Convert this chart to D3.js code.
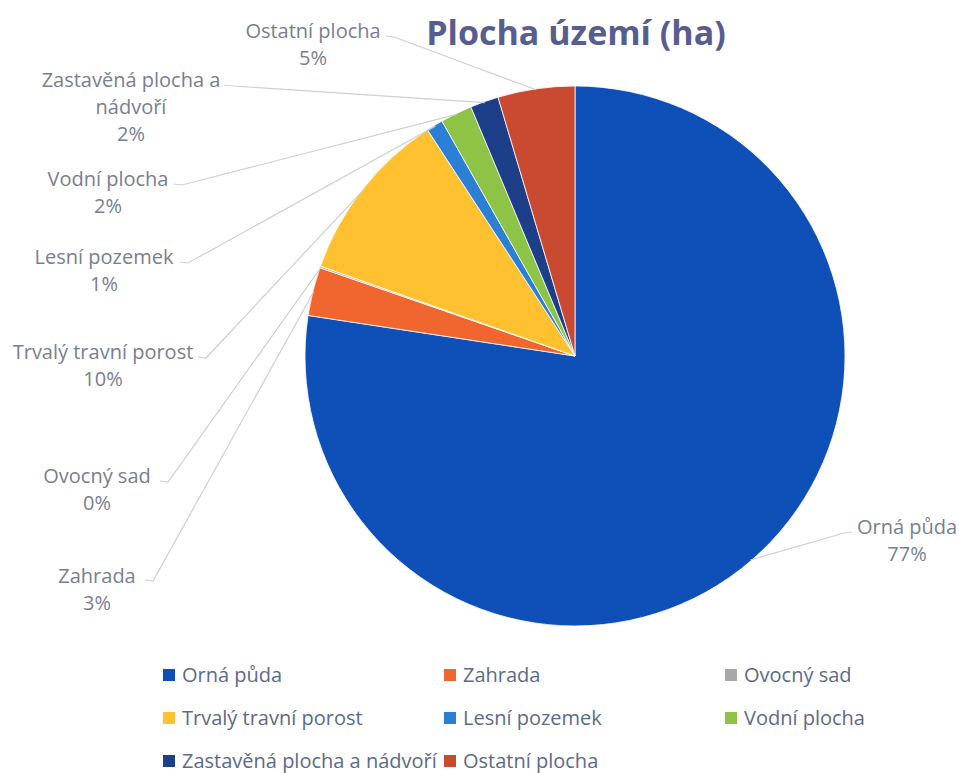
<!DOCTYPE html>
<html>
<head>
<meta charset="utf-8">
<script src="https://cdn.jsdelivr.net/npm/d3@7"></script>
<style>
  body { margin: 0; background: #fff; }
  svg { display: block; font-family: "Open Sans", Lato, sans-serif; }
</style>
</head>
<body>
<div id="chart"></div>
<script>
// share of each land category (percent)
const categories = ["Orná půda", "Zahrada", "Ovocný sad", "Trvalý travní porost",
  "Lesní pozemek", "Vodní plocha", "Zastavěná plocha a nádvoří", "Ostatní plocha"];
const values = [77.4, 2.9, 0.1, 10.4, 1.0, 1.9, 1.7, 4.6];
const colors = ["#0f4fb8", "#f0662e", "#a8a8a8", "#ffc12f", "#2b80d6", "#8ec445", "#1d3f8a", "#c94a30"];

// label layout: lines of text, centre x, first baseline y, anchor of the leader line
const labelLayout = [
  { lines: ["Orná půda"], x: 907, y: 534, lx: 852, ly: 532 },
  { lines: ["Zahrada"], x: 97, y: 583, lx: 145, ly: 580 },
  { lines: ["Ovocný sad"], x: 97, y: 483, lx: 160, ly: 481 },
  { lines: ["Trvalý travní porost"], x: 103, y: 359, lx: 198, ly: 357 },
  { lines: ["Lesní pozemek"], x: 104, y: 264, lx: 180, ly: 262 },
  { lines: ["Vodní plocha"], x: 108, y: 186, lx: 174, ly: 184 },
  { lines: ["Zastavěná plocha a", "nádvoří"], x: 131, y: 87, lx: 225, ly: 85 },
  { lines: ["Ostatní plocha"], x: 313, y: 38, lx: 386, ly: 36 }
];

const width = 959, height = 773;
const cx = 575, cy = 356, radius = 270;

const svg = d3.select("#chart").append("svg")
  .attr("width", width)
  .attr("height", height);

svg.append("text")
  .attr("x", 576)
  .attr("y", 45)
  .attr("text-anchor", "middle")
  .attr("font-size", 34)
  .attr("font-weight", "bold")
  .attr("fill", "#575d8f")
  .text("Plocha území (ha)");

const data = categories.map((c, i) => ({ name: c, value: values[i], color: colors[i], lab: labelLayout[i] }));

const pie = d3.pie().sort(null).value(d => d.value);
const arc = d3.arc().innerRadius(0).outerRadius(radius);
const arcs = pie(data);

const g = svg.append("g").attr("transform", "translate(" + cx + "," + cy + ")");

g.selectAll(".slice")
  .data(arcs)
  .enter()
  .append("path")
  .attr("class", "slice")
  .attr("d", arc)
  .attr("fill", d => d.data.color)
  .attr("stroke", "#ffffff")
  .attr("stroke-width", 0.8);

// leader lines
svg.selectAll(".leader")
  .data(arcs)
  .enter()
  .append("polyline")
  .attr("class", "leader")
  .attr("fill", "none")
  .attr("stroke", "#cdcfd3")
  .attr("stroke-width", 1.2)
  .attr("points", d => {
    const mid = (d.startAngle + d.endAngle) / 2;
    const px = cx + (radius - 1) * Math.sin(mid);
    const py = cy - (radius - 1) * Math.cos(mid);
    const lab = d.data.lab;
    const dir = px > lab.lx ? 1 : -1;
    return [[lab.lx, lab.ly], [lab.lx + dir * 8, lab.ly + 1], [px, py]].map(p => p.join(",")).join(" ");
  });

// data labels
const fmt = d3.format(".0f");
const labels = svg.selectAll(".lab")
  .data(arcs)
  .enter()
  .append("text")
  .attr("class", "lab")
  .attr("text-anchor", "middle")
  .attr("font-size", 20)
  .attr("fill", "#78808f");

labels.each(function (d) {
  const t = d3.select(this);
  const lab = d.data.lab;
  const lines = lab.lines.concat([fmt(d.data.value) + "%"]);
  lines.forEach((l, i) => {
    t.append("tspan")
      .attr("x", lab.x)
      .attr("y", lab.y + i * 27)
      .text(l);
  });
});

// legend
const legCols = [163, 444, 725];
const legRows = [676, 719, 762];
const leg = svg.selectAll(".leg")
  .data(data)
  .enter()
  .append("g")
  .attr("class", "leg")
  .attr("transform", (d, i) => "translate(" + legCols[i % 3] + "," + legRows[Math.floor(i / 3)] + ")");

leg.append("rect")
  .attr("x", 0)
  .attr("y", -7)
  .attr("width", 12)
  .attr("height", 12)
  .attr("fill", d => d.color);

leg.append("text")
  .attr("x", 19)
  .attr("y", 6)
  .attr("font-size", 20)
  .attr("fill", "#5c6a8a")
  .text(d => d.name);
</script>
</body>
</html>
